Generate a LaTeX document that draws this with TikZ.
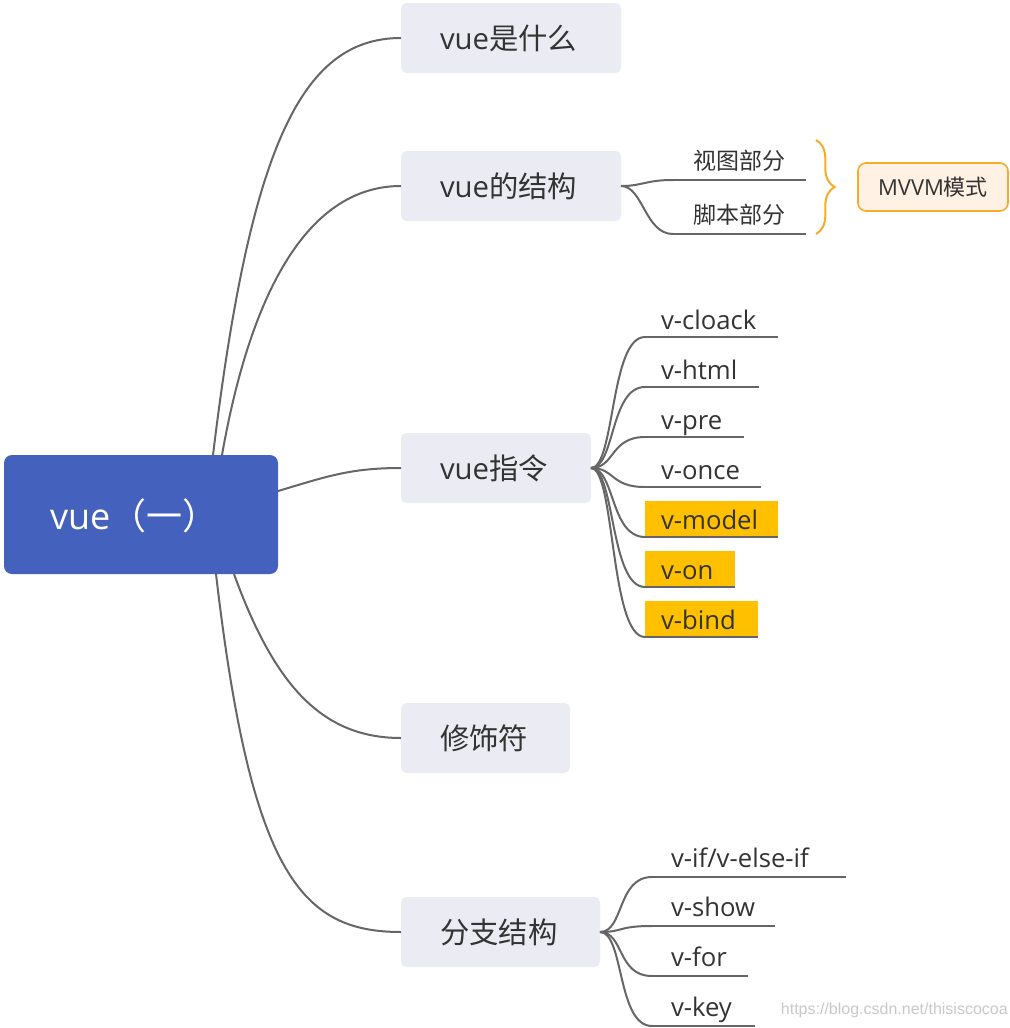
\documentclass[tikz,border=0pt]{standalone}
\usepackage{fontspec}
\setmainfont{Open Sans}
\newfontfamily\cjk{Noto Sans CJK SC}
\newfontfamily\wmfont{Liberation Sans}
\usetikzlibrary{decorations.pathreplacing}
\definecolor{rootblue}{HTML}{4361BD}
\definecolor{boxgray}{HTML}{EBEBF3}
\definecolor{linegray}{HTML}{666666}
\definecolor{hlyellow}{HTML}{FFC000}
\definecolor{orangeline}{HTML}{F5AC2A}
\definecolor{mvfill}{HTML}{FFF1E4}
\definecolor{txtc}{HTML}{333333}
\definecolor{wmgray}{HTML}{C8C8C8}
\begin{document}
\begin{tikzpicture}[x=0.75pt,y=-0.75pt,
 rootbox/.style={fill=rootblue, rounded corners=6pt, text=white, font=\fontsize{27pt}{30pt}\selectfont, anchor=west, inner xsep=34.5pt, inner ysep=0pt, minimum height=89.25pt, align=left, text width=136.5pt, outer sep=0pt, text height=28.5pt, text depth=5.5pt},
 topic/.style={fill=boxgray, rounded corners=4pt, text=txtc, font=\fontsize{22pt}{26pt}\selectfont, anchor=west, inner xsep=29.25pt, inner ysep=0pt, minimum height=52.5pt, align=left, outer sep=0pt, text height=22pt, text depth=4.5pt},
 leaf/.style={text=txtc, font=\fontsize{19.25pt}{22pt}\selectfont, anchor=south west, inner xsep=12pt, inner ysep=0pt, minimum height=27pt, align=left, outer sep=0pt, text height=19.5pt, text depth=4.5pt},
 hleaf/.style={leaf, fill=hlyellow},
 bleaf/.style={leaf, inner xsep=14.25pt, minimum height=30pt},
 sleaf/.style={text=txtc, font=\fontsize{17.25pt}{20pt}\selectfont, anchor=south west, inner xsep=0pt, inner ysep=0pt, minimum height=30pt, align=center, text width=99.75pt, outer sep=0pt, text height=17pt, text depth=3.5pt},
 conn/.style={draw=linegray, line width=1.5pt},
 mvbox/.style={fill=mvfill, draw=orangeline, line width=1.2pt, rounded corners=6pt, text=txtc, font=\fontsize{16.5pt}{20pt}\selectfont, minimum width=112.5pt, minimum height=36pt, inner sep=0pt}
]
\useasboundingbox (0,0) rectangle (1010,1028);

% root
\node[rootbox] (root) at (4,514.5) {\mbox{vue{\cjk （一）}}};

% topics
\node[topic, text width=106.5pt] (t1) at (401,38) {\mbox{vue{\cjk 是什么}}};
\node[topic, text width=106.5pt] (t2) at (401,186) {\mbox{vue{\cjk 的结构}}};
\node[topic, text width=84pt] (t3) at (401,468) {\mbox{vue{\cjk 指令}}};
\node[topic, text width=68.25pt] (t4) at (401,738) {\mbox{\cjk 修饰符}};
\node[topic, text width=90.75pt] (t5) at (401,932) {\mbox{\cjk 分支结构}};

% root connectors
\draw[conn] ([xshift=156.75pt]root.north west) .. controls +(37,-305) and +(-101,0) .. (t1.west);
\draw[conn] ([xshift=163.5pt]root.north west) .. controls +(30,-170) and +(-90,0) .. (t2.west);
\draw[conn] ([yshift=17.6pt]root.east) .. controls +(50,-15) and +(-50,0) .. (t3.west);
\draw[conn] ([xshift=172.5pt]root.south west) .. controls +(40,110) and +(-80,0) .. (t4.west);
\draw[conn] ([xshift=159pt]root.south west) .. controls +(35,300) and +(-100,0) .. (t5.west);

% structure children
\node[sleaf] (s1) at (673,180) {\mbox{\cjk 视图部分}};
\node[sleaf] (s2) at (673,234) {\mbox{\cjk 脚本部分}};
\foreach \n in {s1,s2}{
  \draw[conn] (t2.east) .. controls +(22,0) and +(-28,0) .. (\n.south west);
  \draw[conn] (\n.south west) -- (\n.south east);
}
\coordinate (bt) at (816,140);
\coordinate (bb) at (816,234);
\draw[orangeline, line width=1.5pt, decorate, decoration={brace, amplitude=14pt}] (bt) -- (bb);
\node[mvbox] (mv) at (933,187) {MVVM{\cjk 模式}};

% directive children
\node[leaf, text width=75.75pt] (c1) at (645,337) {\mbox{v-cloack}};
\node[leaf, text width=61.5pt] (c2) at (645,387) {\mbox{v-html}};
\node[leaf, text width=50.25pt] (c3) at (645,437) {\mbox{v-pre}};
\node[leaf, text width=63pt] (c4) at (645,487) {\mbox{v-once}};
\node[hleaf, text width=75.75pt] (c5) at (645,537) {\mbox{v-model}};
\node[hleaf, text width=43.5pt] (c6) at (645,587) {\mbox{v-on}};
\node[hleaf, text width=60.75pt] (c7) at (645,637) {\mbox{v-bind}};
\foreach \n in {c1,c2,c3,c4,c5,c6,c7}{
  \draw[conn] (t3.east) .. controls +(24,0) and +(-35,0) .. (\n.south west);
  \draw[conn] (\n.south west) -- (\n.south east);
}

% branch children
\node[bleaf, text width=117pt] (d1) at (652,877) {\mbox{v-if/v-else-if}};
\node[bleaf, text width=63.75pt] (d2) at (652,926) {\mbox{v-show}};
\node[bleaf, text width=43.5pt] (d3) at (652,976) {\mbox{v-for}};
\node[bleaf, text width=48.75pt] (d4) at (652,1026) {\mbox{v-key}};
\foreach \n in {d1,d2,d3,d4}{
  \draw[conn] (t5.east) .. controls +(24,0) and +(-35,0) .. (\n.south west);
  \draw[conn] (\n.south west) -- (\n.south east);
}

% watermark
\node[text=wmgray, font=\wmfont\fontsize{12pt}{14pt}\selectfont, anchor=east, inner sep=0pt] (wm) at (1008,1010) {https://blog.csdn.net/thisiscocoa};
\end{tikzpicture}
\end{document}
